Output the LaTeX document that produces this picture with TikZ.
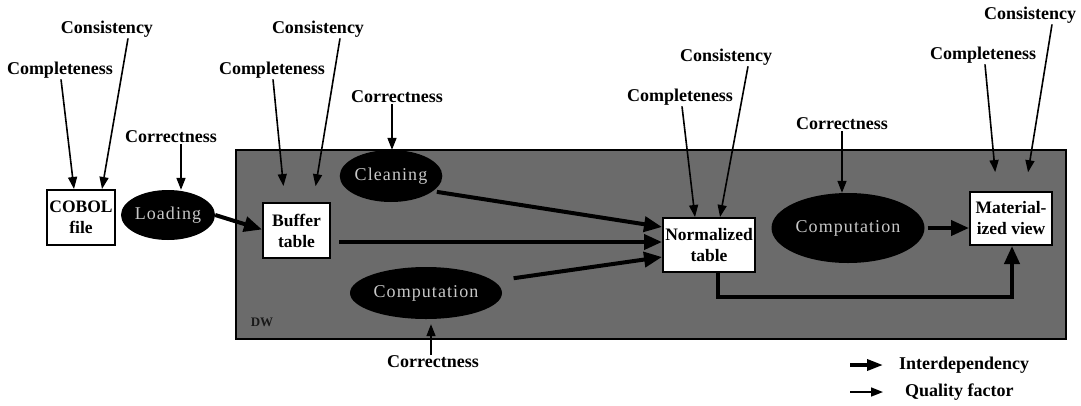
\documentclass[tikz,border=0pt]{standalone}
\usepackage{fontspec}
\setmainfont{Liberation Serif}
\usetikzlibrary{arrows.meta,shapes.geometric}

\begin{document}
\begin{tikzpicture}[x=1pt,y=-1pt,
  lbl/.style={font=\bfseries\fontsize{18}{20}\selectfont, inner sep=1pt},
  store/.style={draw, line width=2pt, fill=white, inner sep=0pt, align=center,
                font=\bfseries\fontsize{17.5}{21}\selectfont},
  proc/.style={ellipse, fill=black, inner sep=0pt, text=black!22,
               font=\fontsize{18}{20}\selectfont\addfontfeature{LetterSpace=6}},
  qf/.style={line width=1.6pt, -{Triangle[length=12pt,width=9pt]}},
  inter/.style={line width=4pt, -{Triangle[length=18pt,width=15pt]}},
  legint/.style={line width=3.5pt, -{Triangle[length=16pt,width=11pt]}},
]
\useasboundingbox (0,0) rectangle (1081,405);

% data warehouse area
\node[draw, line width=1.5pt, fill=black!58, minimum width=830pt, minimum height=189pt,
      inner sep=0pt] (dw) at (651,244.5) {};
\node[font=\bfseries\fontsize{13}{13}\selectfont, text=black!90, inner sep=0pt]
      (dwlbl) at (262,322) {DW};

% stores
\node[store, minimum width=68pt, minimum height=55pt] (cobol) at (81,217.5) {COBOL\\file};
\node[store, minimum width=67pt, minimum height=55pt] (buffer) at (296.5,230.5) {Buffer\\table};
\node[store, minimum width=92pt, minimum height=54pt] (norm) at (709,245) {Normalized\\table};
\node[store, minimum width=82pt, minimum height=53pt] (mat) at (1011,218.5) {Material-\\ized view};

% processes
\node[proc, minimum width=82pt, minimum height=50pt] (loading) at (168,215) {Loading};
\node[proc, minimum width=96pt, minimum height=52pt] (cleaning) at (391,176) {Cleaning};
\node[proc, minimum width=152pt, minimum height=52pt] (compA) at (426,293) {Computation};
\node[proc, minimum width=153pt, minimum height=70pt] (compB) at (848,228) {Computation};

% quality factor labels
\node[lbl] (cobcomp) at (60,70) {Completeness};
\node[lbl] (cobcons) at (107,29) {Consistency};
\node[lbl] (loadcorr) at (171,137) {Correctness};
\node[lbl] (bufcomp) at (272,70) {Completeness};
\node[lbl] (bufcons) at (318,29) {Consistency};
\node[lbl] (cleancorr) at (397,97) {Correctness};
\node[lbl] (normcomp) at (680,97) {Completeness};
\node[lbl] (normcons) at (726,57) {Consistency};
\node[lbl] (compBcorr) at (842,124) {Correctness};
\node[lbl] (matcomp) at (983,55) {Completeness};
\node[lbl] (matcons) at (1030,15) {Consistency};
\node[lbl] (compAcorr) at (433,362) {Correctness};

% quality factor arrows
\draw[qf] ([xshift=1pt]cobcomp.south) -- ([xshift=-7pt]cobol.north);
\draw[qf] ([xshift=21pt]cobcons.south) -- ([xshift=21pt]cobol.north);
\draw[qf] ([xshift=10pt]loadcorr.south) -- ([xshift=13pt]loading.north);
\draw[qf, shorten >=16pt] ([xshift=1pt]bufcomp.south) -- ([xshift=-11.5pt]buffer.north);
\draw[qf, shorten >=16pt] ([xshift=22pt]bufcons.south) -- ([xshift=16.5pt]buffer.north);
\draw[qf] ([xshift=-5pt]cleancorr.south) -- ([xshift=1pt]cleaning.north);
\draw[qf] ([xshift=2pt]normcomp.south) -- ([xshift=-14pt]norm.north);
\draw[qf] ([xshift=22pt]normcons.south) -- ([xshift=11pt]norm.north);
\draw[qf] (compBcorr.south) -- ([xshift=-6pt]compB.north);
\draw[qf, shorten >=19pt] ([xshift=2pt]matcomp.south) -- ([xshift=-14pt]mat.north);
\draw[qf, shorten >=19pt] ([xshift=22pt]matcons.south) -- ([xshift=14pt]mat.north);
\draw[qf, shorten >=5pt] ([xshift=-2pt]compAcorr.north) -- ([xshift=5pt]compA.south);

% interdependencies
\draw[inter] (loading.east) -- ([yshift=1pt]buffer.west);
\draw[inter, shorten <=8pt] ([yshift=-11.5pt]buffer.east) -- ([yshift=3pt]norm.west);
\draw[inter, shorten <=4pt] (cleaning.-20) -- ([yshift=18pt]norm.west);
\draw[inter, shorten <=20pt] (compA.10) -- ([yshift=-12pt]norm.west);
\draw[inter, shorten <=3pt] (compB.east) -- (compB.east -| mat.west);
\coordinate (nbot) at ([xshift=9pt]norm.south);
\coordinate (bend) at (718,297);
\draw[inter] (nbot) -- (bend) -| ([xshift=1pt]mat.south);

% legend
\coordinate (legAa) at (850,365);
\coordinate (legAb) at (883,365);
\coordinate (legBa) at (850,392);
\coordinate (legBb) at (883,392);
\draw[legint] (legAa) -- (legAb);
\draw[qf] (legBa) -- (legBb);
\node[lbl, anchor=west] (legA) at (898,365) {Interdependency};
\node[lbl, anchor=west] (legB) at (904,392) {Quality factor};
\end{tikzpicture}
\end{document}
